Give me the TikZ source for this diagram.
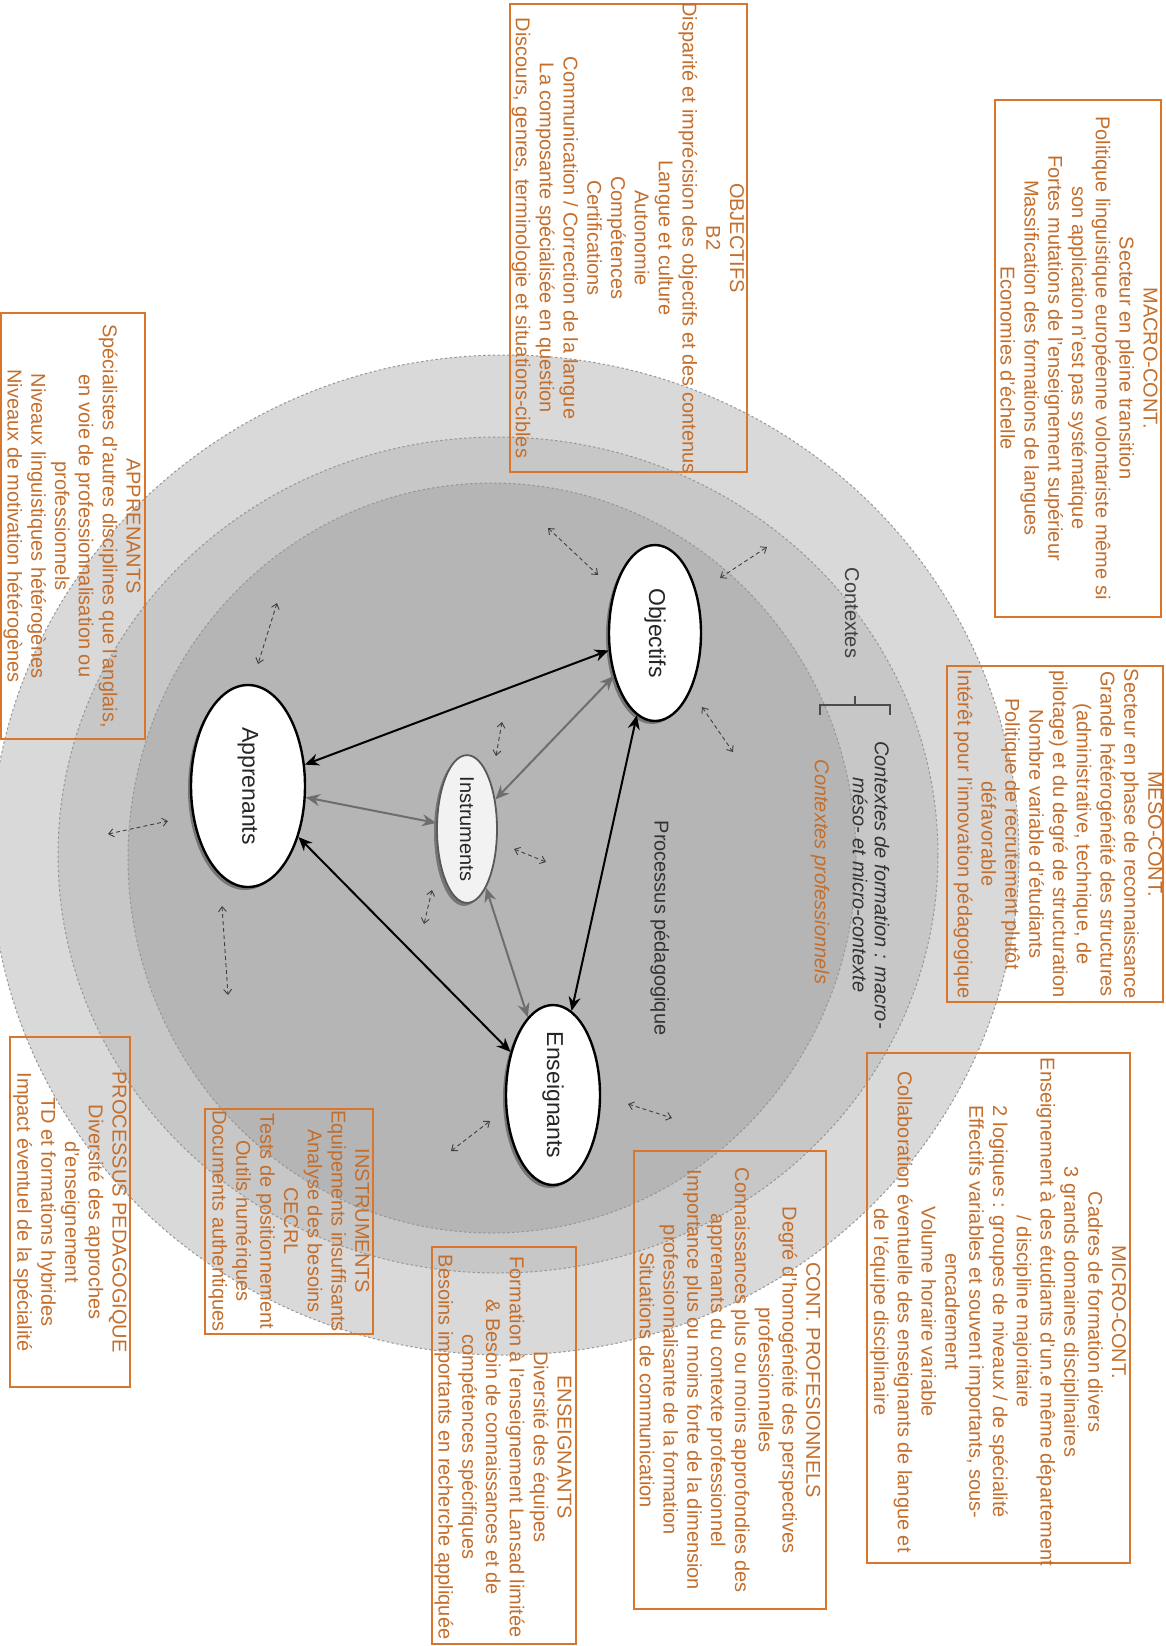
\documentclass[tikz,border=0pt]{standalone}
\usepackage{fontspec}
\setmainfont{Liberation Sans}
\usepackage{graphicx}
\usetikzlibrary{shapes.geometric,arrows.meta,shadows}
\definecolor{orgtext}{RGB}{196,110,44}
\definecolor{orgline}{RGB}{218,118,44}
\definecolor{ringA}{RGB}{217,217,217}
\definecolor{ringB}{RGB}{199,199,199}
\definecolor{ringC}{RGB}{181,181,181}
\definecolor{ringline}{RGB}{150,150,150}
\definecolor{garrow}{RGB}{110,110,110}
\begin{document}
\begin{tikzpicture}[x=0.5pt,y=-0.5pt,
  boxnode/.style={draw=orgline, line width=0.7pt, rectangle, inner sep=0pt, outer sep=0pt},
  txt/.style={rotate=-90, align=center, text=orgtext, inner sep=0pt, font=\fontsize{10}{11.9}\selectfont},
  lbl/.style={rotate=-90, align=center, inner sep=0pt, font=\fontsize{10}{11}\selectfont},
  ell/.style={ellipse, draw=black, line width=1.2pt, fill=white, inner sep=0pt,
     font=\fontsize{11.5}{13}\selectfont, text=black!85,
     drop shadow={shadow xshift=-1.5pt, shadow yshift=-1.5pt, fill=black, opacity=0.35}},
  blk/.style={{Stealth[length=7pt,width=6pt]}-{Stealth[length=7pt,width=6pt]}, line width=1pt, draw=black},
  gry/.style={{Stealth[length=7pt,width=6pt]}-{Stealth[length=7pt,width=6pt]}, line width=1pt, draw=garrow},
  sm/.style={{Straight Barb[length=2.5pt,width=4pt]}-{Straight Barb[length=2.5pt,width=4pt]}, dash pattern=on 2pt off 1.5pt, line width=0.45pt, draw=black!75},
  ring/.style={draw=ringline, dash pattern=on 1.2pt off 1.2pt, line width=0.5pt}
]
\useasboundingbox (0,0) rectangle (1166,1646);
\clip (0,0) rectangle (1166,1646);

% background rings
\filldraw[fill=ringA, ring] (505,855) ellipse [x radius=257pt, y radius=250pt];
\filldraw[fill=ringB, ring] (498,855) ellipse [x radius=220pt, y radius=209pt];
\filldraw[fill=ringC, ring] (492,858) ellipse [x radius=182pt, y radius=187.5pt];

% boxes
\node[boxnode, minimum width=83pt,   minimum height=258.5pt] (bMacro) at (1078,358.5) {};
\node[boxnode, minimum width=108pt,  minimum height=168pt]   (bMeso)  at (1055,834) {};
\node[boxnode, minimum width=131.5pt,minimum height=255pt]   (bMicro) at (998.5,1308) {};
\node[boxnode, minimum width=96pt,   minimum height=229pt]   (bPro)   at (730,1380) {};
\node[boxnode, minimum width=72pt,   minimum height=198.5pt] (bEns)   at (504,1445.5) {};
\node[boxnode, minimum width=84pt,   minimum height=112.5pt] (bInstr) at (289,1221.5) {};
\node[boxnode, minimum width=60pt,   minimum height=175pt]   (bProc)  at (70,1212) {};
\node[boxnode, minimum width=72pt,   minimum height=213pt]   (bAppr)  at (73,526) {};
\node[boxnode, minimum width=118.5pt,minimum height=234pt]   (bObj)   at (628.5,238) {};

% box texts
\node[txt] (tMacro) at (1079,358) {MACRO-CONT.\\Secteur en pleine transition\\Politique linguistique européenne volontariste même si\\son application n'est pas systématique\\Fortes mutations de l'enseignement supérieur\\Massification des formations de langues\\Economies d'échelle};
\node[txt] (tMeso) at (1058,834) {MESO-CONT.\\Secteur en phase de reconnaissance\\Grande hétérogénéité des structures\\(administrative, technique, de\\pilotage) et du degré de structuration\\Nombre variable d'étudiants\\Politique de recrutement plutôt\\défavorable\\Intérêt pour l'innovation pédagogique};
\node[txt] (tMicro) at (998,1312) {MICRO-CONT.\\Cadres de formation divers\\3 grands domaines disciplinaires\\Enseignement à des étudiants d'un.e même département\\/ discipline majoritaire\\2 logiques : groupes de niveaux / de spécialité\\Effectifs variables et souvent importants, sous-\\encadrement\\Volume horaire variable\\Collaboration éventuelle des enseignants de langue et\\de l'équipe disciplinaire};
\node[txt] (tPro) at (730,1380) {CONT. PROFESIONNELS\\Degré d'homogénéité des perspectives\\professionnelles\\Connaissances plus ou moins approfondies des\\apprenants du contexte professionnel\\Importance plus ou moins forte de la dimension\\professionnalisante de la formation\\Situations de communication};
\node[txt] (tEns) at (503,1447) {ENSEIGNANTS\\Diversité des équipes\\Formation à l'enseignement Lansad limitée\\\& Besoin de connaissances et de\\compétences spécifiques\\Besoins importants en recherche appliquée};
\node[txt] (tInstr) at (289,1221) {INSTRUMENTS\\Equipements insuffisants\\Analyse des besoins\\CECRL\\Tests de positionnement\\Outils numériques\\Documents authentiques};
\node[txt] (tProc) at (70,1212) {PROCESSUS PEDAGOGIQUE\\Diversité des approches\\d'enseignement\\TD et formations hybrides\\Impact éventuel de la spécialité};
\node[txt] (tAppr) at (72,526) {APPRENANTS\\Spécialistes d'autres disciplines que l'anglais,\\en voie de professionnalisation ou\\professionnels\\Niveaux linguistiques hétérogènes\\Niveaux de motivation hétérogènes};
\node[txt] (tObj) at (628,238) {OBJECTIFS\\B2\\Disparité et imprécision des objectifs et des contenus\\Langue et culture\\Autonomie\\Compétences\\Certifications\\Communication / Correction de la langue\\La composante spécialisée en question\\Discours, genres, terminologie et situations-cibles};

% context labels
\node[lbl, text=black!75] (ctx) at (852,613) {Contextes};
\node[lbl, text=black!80, font=\fontsize{10}{11}\selectfont\itshape] (ctxf) at (871,885) {Contextes de formation : macro-\\méso- et micro-contexte};
\node[lbl, text=orgtext, font=\fontsize{10}{11}\selectfont\itshape] (ctxp) at (820,872) {Contextes professionnels};
\node[lbl, text=black!80] (proc) at (660,928) {Processus pédagogique};

% bracket
\coordinate (k1) at (820,715);
\coordinate (k2) at (820,705);
\coordinate (k3) at (890,705);
\coordinate (k4) at (890,715);
\coordinate (k5) at (855,705);
\coordinate (k6) at (855,696);
\draw[black!70, line width=0.7pt] (k1) -- (k2) -- (k3) -- (k4) (k5) -- (k6);

% main nodes
\node[ell, minimum width=46pt, minimum height=88pt] (obj) at (655,633) {\rotatebox{-90}{Objectifs}};
\node[ell, minimum width=57pt, minimum height=101pt] (app) at (248,786) {\rotatebox{-90}{Apprenants}};
\node[ell, minimum width=47pt, minimum height=90pt] (ens) at (553,1095) {\rotatebox{-90}{Enseignants}};
\node[ell, draw=black!65, line width=0.9pt, fill=black!5, minimum width=30pt, minimum height=70pt, font=\fontsize{10}{12}\selectfont] (ins) at (467,829) {\rotatebox{-90}{Instruments}};

% connectors
\draw[blk] (app) -- (obj);
\draw[blk] (app) -- (ens);
\draw[blk] (obj) -- (ens);
\draw[gry] (app) -- (ins);
\draw[gry] (ins) -- (obj);
\draw[gry] (ins) -- (ens);

% small dashed double arrows
\coordinate (a1s) at (548,528);  \coordinate (a1e) at (598,575);
\coordinate (a2s) at (720,578);  \coordinate (a2e) at (767,547);
\coordinate (a3s) at (702,707);  \coordinate (a3e) at (733,752);
\coordinate (a4s) at (277,603);  \coordinate (a4e) at (258,664);
\coordinate (a5s) at (222,906);  \coordinate (a5e) at (228,995);
\coordinate (a6s) at (108,834);  \coordinate (a6e) at (168,821);
\coordinate (a7s) at (502,722);  \coordinate (a7e) at (496,756);
\coordinate (a8s) at (514,849);  \coordinate (a8e) at (546,862);
\coordinate (a9s) at (432,890);  \coordinate (a9e) at (424,924);
\coordinate (a10s) at (451,1151); \coordinate (a10e) at (490,1121);
\coordinate (a11s) at (628,1104); \coordinate (a11e) at (672,1118);
\draw[sm] (a1s) -- (a1e);
\draw[sm] (a2s) -- (a2e);
\draw[sm] (a3s) -- (a3e);
\draw[sm] (a4s) -- (a4e);
\draw[sm] (a5s) -- (a5e);
\draw[sm] (a6s) -- (a6e);
\draw[sm] (a7s) -- (a7e);
\draw[sm] (a8s) -- (a8e);
\draw[sm] (a9s) -- (a9e);
\draw[sm] (a10s) -- (a10e);
\draw[sm] (a11s) -- (a11e);
\end{tikzpicture}
\end{document}
